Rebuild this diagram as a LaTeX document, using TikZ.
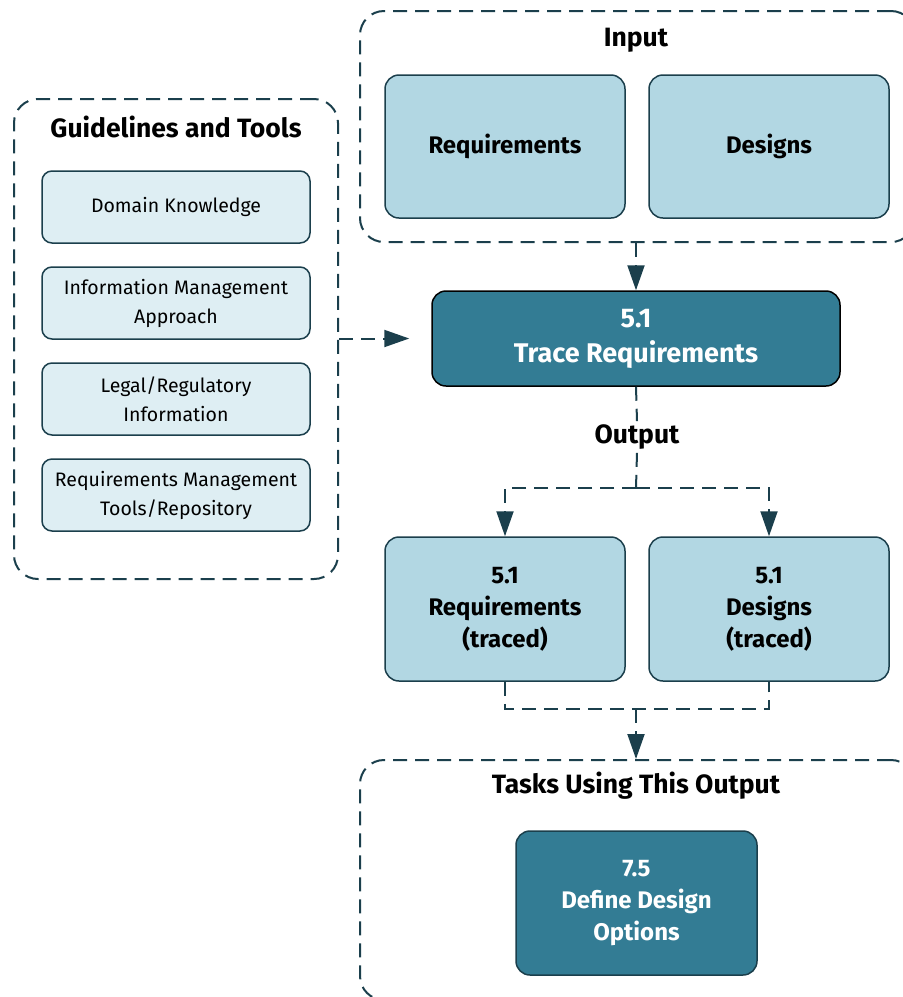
\documentclass[tikz,border=0pt]{standalone}
\usepackage{fontspec}
\setmainfont{Fira Sans}
\usetikzlibrary{arrows.meta}

\definecolor{tealdark}{HTML}{1B3F4C}
\definecolor{tealbox}{HTML}{337C94}
\definecolor{bluebox}{HTML}{B2D7E3}
\definecolor{paleblue}{HTML}{DEEEF3}

\tikzset{
	grouplink/.style={draw=tealdark, line width=2pt, dash pattern=on 14pt off 8pt},
	groupbox/.style={grouplink, rounded corners=24pt, inner sep=0pt},
	grouptitle/.style={font=\fontsize{26.5}{30}\selectfont\bfseries},
	itembox/.style={draw=tealdark, line width=1.5pt, rounded corners=14pt, fill=bluebox,
		minimum width=240pt, minimum height=143pt, align=center,
		font=\fontsize{24}{32}\selectfont\bfseries},
	taskbox/.style={itembox, fill=tealbox, text=white},
	toolbox/.style={draw=tealdark, line width=1.5pt, rounded corners=10pt, fill=paleblue,
		minimum width=268pt, minimum height=72pt, align=center,
		font=\fontsize{19.5}{29}\selectfont},
	tip/.style={-{Triangle[width=17pt,length=25pt]}}
}

\begin{document}
\begin{tikzpicture}[x=1pt, y=-1pt]
\useasboundingbox (0,0) rectangle (903,997);
\clip (0,0) rectangle (903,997);

% groups
\node[groupbox, minimum width=555pt, minimum height=231pt] (input) at (637.5,126.5) {};
\node[grouptitle] (inputlbl) at (636,40) {Input};
\node[groupbox, minimum width=324pt, minimum height=480pt] (guide) at (176,339) {};
\node[grouptitle] (guidelbl) at (176,127) {Guidelines and Tools};
\node[groupbox, minimum width=555pt, minimum height=240pt] (tasks) at (637.5,880) {};
\node[grouptitle] (taskslbl) at (636,786) {Tasks Using This Output};

% inputs
\node[itembox] (req) at (505,146.5) {Requirements};
\node[itembox] (des) at (769,146.5) {Designs};

% guidelines and tools
\foreach \y/\name/\txt in {207/dk/{Domain Knowledge},
	303/ima/{Information Management\\Approach},
	399/lri/{Legal/Regulatory\\Information},
	495/rmt/{Requirements Management\\Tools/Repository}}
{
	\node[toolbox] (\name) at (176,\y) {\txt};
}

% task
\node[taskbox, draw=black, minimum width=408pt, minimum height=95pt,
	font=\fontsize{27}{35}\selectfont\bfseries] (trace) at (636,338.5) {5.1\\Trace Requirements};

% outputs
\node[grouptitle] (outlbl) at (637,437) {Output};
\node[itembox, minimum height=144pt] (reqtr) at (505,609) {5.1\\Requirements\\(traced)};
\node[itembox, minimum height=144pt] (destr) at (769,609) {5.1\\Designs\\(traced)};
\coordinate (split) at (636,488);
\coordinate (join) at (636,709);

\node[taskbox, minimum width=241pt, minimum height=144pt] (dds) at (636.5,903) {7.5\\Define Design\\Options};

% connectors
\draw[grouplink, tip] (trace.north |- input.south) -- (trace.north);
\draw[grouplink, tip, shorten >=22pt] (guide.east |- trace.west) -- (trace.west);
\draw[grouplink] (trace.south) -- (outlbl.north);
\draw[grouplink] (outlbl.south) -- (split);
\draw[grouplink, tip] (split) -| (reqtr.north);
\draw[grouplink, tip] (split) -| (destr.north);
\draw[grouplink] (reqtr.south) |- (join) -| (destr.south);
\draw[grouplink, tip] (join) -- (join |- tasks.north);
\end{tikzpicture}
\end{document}
